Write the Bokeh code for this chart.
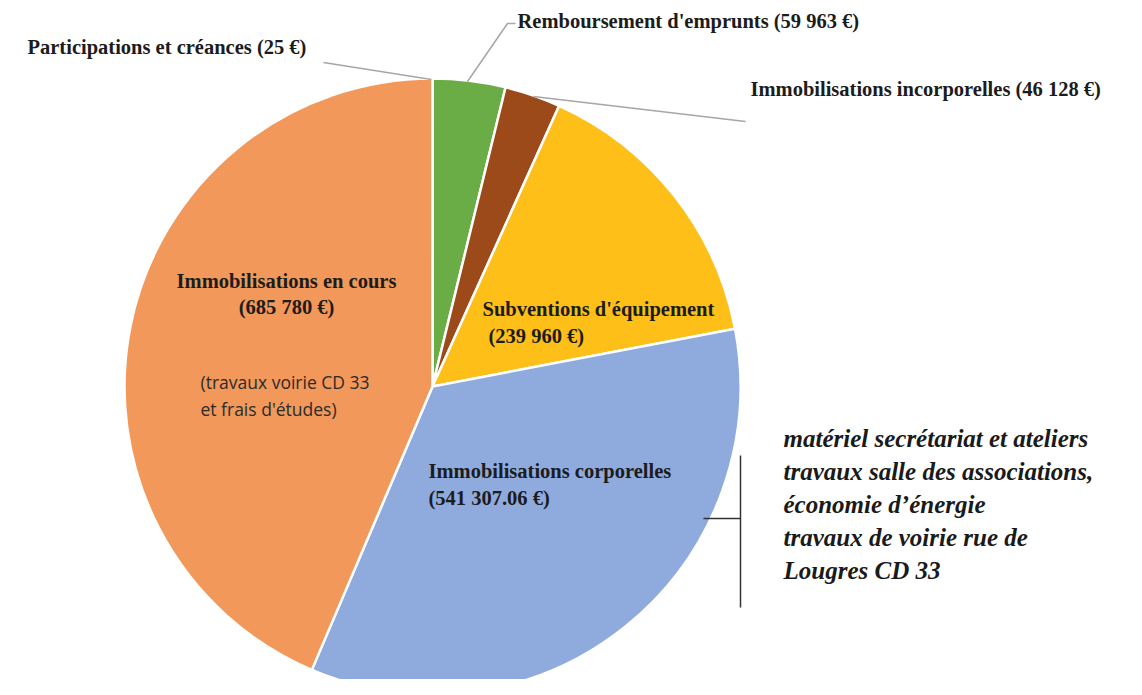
import math
from bokeh.plotting import figure
from bokeh.models import Range1d, ColumnDataSource
from bokeh.core.properties import value
from bokeh.embed import file_html
from bokeh.resources import INLINE

# ---- data ----
categories = [
    "Participations et créances",
    "Remboursement d'emprunts",
    "Immobilisations incorporelles",
    "Subventions d'équipement",
    "Immobilisations corporelles",
    "Immobilisations en cours",
]
amounts = [25, 59963, 46128, 239960, 541307.06, 685780]
amount_labels = ["25 €", "59 963 €", "46 128 €", "239 960 €", "541 307.06 €", "685 780 €"]
colors = ["#5B9BD5", "#6AAD47", "#9C4A1A", "#FDBF18", "#8FAADC", "#F1985A"]
note_en_cours = ["(travaux voirie CD 33", "et frais d'études)"]
note_corporelles = [
    "matériel secrétariat et ateliers",
    "travaux salle des associations,",
    "économie d’énergie",
    "travaux de voirie rue de",
    "Lougres CD 33",
]

W, H = 1126, 679
H_PAGE = 695


def Y(s):
    return H_PAGE - s


p = figure(width=W, height=H, output_backend="svg", toolbar_location=None,
           x_range=Range1d(0, W), y_range=Range1d(Y(H), Y(0)),
           x_axis_type=None, y_axis_type=None, min_border=0)
p.outline_line_color = None
p.background_fill_color = "white"
p.border_fill_color = "white"

cx, cy, R = 432, 386, 308
total = sum(amounts)
starts, ends = [], []
cum = 0.0
for a in amounts:
    s_frac = cum
    cum += a
    e_frac = cum
    # clockwise from 12 o'clock
    starts.append(math.pi / 2 - e_frac / total * 2 * math.pi)
    ends.append(math.pi / 2 - s_frac / total * 2 * math.pi)

src = ColumnDataSource(dict(x=[cx] * len(amounts), y=[Y(cy)] * len(amounts),
                            start=starts, end=ends, color=colors))
p.wedge(x="x", y="y", radius=R, start_angle="start", end_angle="end",
        direction="anticlock", fill_color="color", line_color="white",
        line_width=2.5, source=src)

serif = value("Liberation Serif")
lab_color = "#1c1c1c"
BOLD_SIZE = "20.5px"


def txt(x, y, s, size=BOLD_SIZE, align="left", font=serif, style="bold", color=lab_color):
    p.text(x=[x], y=[Y(y)], text=[s], text_font=font, text_font_size=size,
           text_font_style=style, text_align=align, text_baseline="middle",
           text_color=color)


def lbl(i):
    return f"{categories[i]} ({amount_labels[i]})"


# leader lines
lead = "#A6A6A6"
p.line(x=[323, 431], y=[Y(62), Y(79)], line_color=lead, line_width=1.5)
p.line(x=[467, 507, 515], y=[Y(81), Y(23), Y(23)], line_color=lead, line_width=1.5)
p.line(x=[533, 745], y=[Y(96), Y(121)], line_color=lead, line_width=1.5)

# outside labels
txt(27, 46, lbl(0))
txt(517, 20, lbl(1))
txt(750, 88, lbl(2))

# inside labels
txt(286, 280, categories[5], align="center")
txt(286, 306, f"({amount_labels[5]})", align="center")
sans = value("Open Sans")
txt(200, 381, note_en_cours[0], size="17.5px", font=sans, style="normal", color="#2b2b2b")
txt(200, 408, note_en_cours[1], size="17.5px", font=sans, style="normal", color="#2b2b2b")

txt(482, 308, categories[3])
txt(488, 335, f"({amount_labels[3]})")

txt(428, 470, categories[4])
txt(428, 497, f"({amount_labels[4]})")

# bracket
p.line(x=[740, 740], y=[Y(455), Y(607)], line_color="#333333", line_width=1.5)
p.line(x=[703, 740], y=[Y(518), Y(518)], line_color="#333333", line_width=1.5)

for k, s in enumerate(note_corporelles):
    txt(783, 438 + k * 33, s, size="25px", style="bold italic", color="#1a1a1a")

open("out.html", "w").write(file_html(p, INLINE))
